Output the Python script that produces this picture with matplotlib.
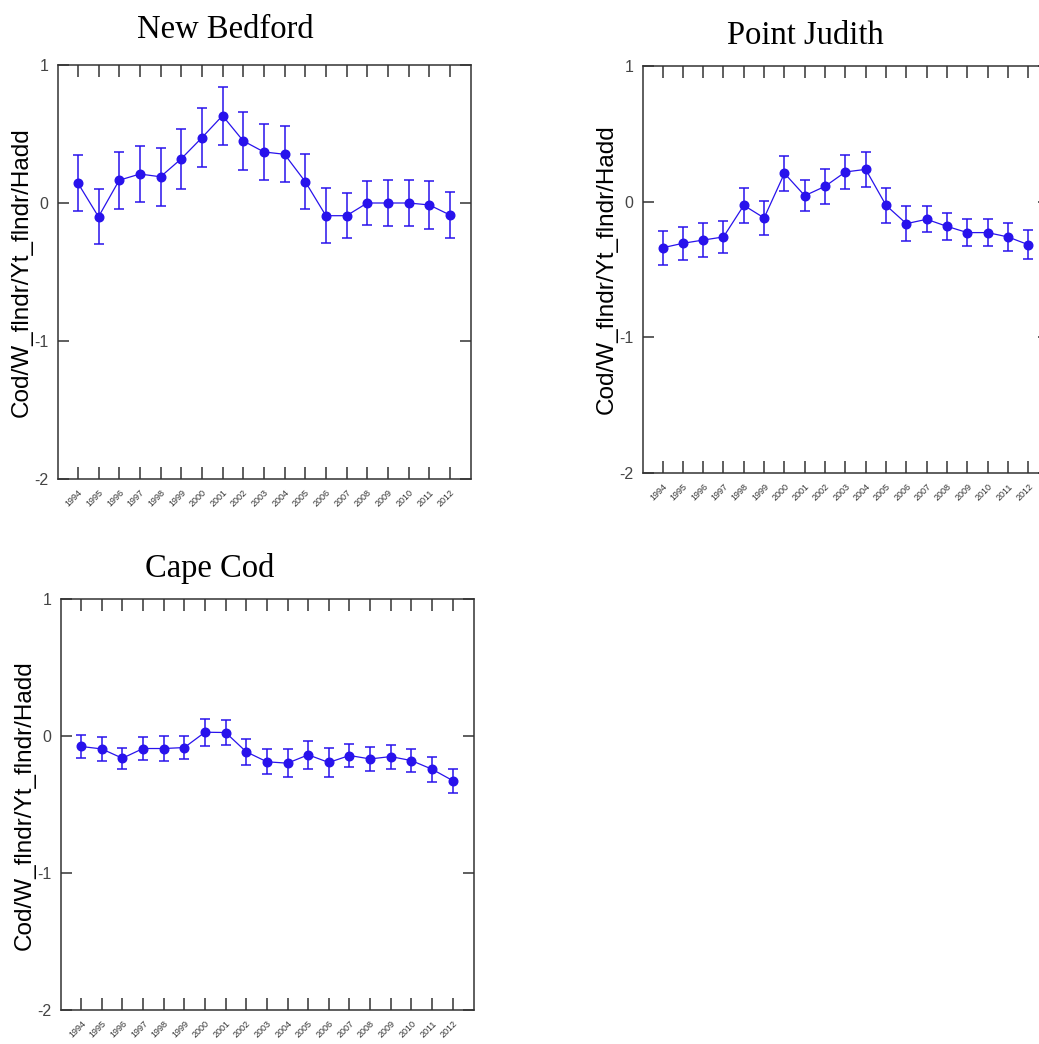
import matplotlib
matplotlib.use("Agg")
import matplotlib.pyplot as plt

years = list(range(1994, 2013))
year_labels = [str(y) for y in years]

nb_vals = [0.145, -0.10, 0.165, 0.21, 0.19, 0.32, 0.473, 0.633, 0.45, 0.37,
           0.353, 0.155, -0.092, -0.092, 0.0, 0.0, 0.0, -0.014, -0.087]
nb_err = [0.20, 0.20, 0.205, 0.205, 0.21, 0.215, 0.213, 0.21, 0.208, 0.204,
          0.203, 0.20, 0.198, 0.163, 0.162, 0.166, 0.166, 0.175, 0.17]

pj_vals = [-0.34, -0.307, -0.283, -0.26, -0.027, -0.12, 0.209, 0.044, 0.113, 0.219,
           0.238, -0.027, -0.162, -0.13, -0.182, -0.228, -0.228, -0.26, -0.317]
pj_err = [0.127, 0.12, 0.124, 0.12, 0.13, 0.125, 0.127, 0.115, 0.13, 0.125,
          0.13, 0.13, 0.128, 0.095, 0.097, 0.097, 0.097, 0.10, 0.107]

cc_vals = [-0.075, -0.093, -0.161, -0.09, -0.09, -0.083, 0.029, 0.027, -0.114, -0.187,
           -0.197, -0.136, -0.192, -0.141, -0.166, -0.149, -0.178, -0.241, -0.324]
cc_err = [0.082, 0.09, 0.077, 0.082, 0.091, 0.087, 0.10, 0.09, 0.097, 0.091,
          0.10, 0.10, 0.104, 0.087, 0.09, 0.087, 0.085, 0.092, 0.088]

titles = ["New Bedford", "Point Judith", "Cape Cod"]
ylabel = "Cod/W_flndr/Yt_flndr/Hadd"
yticks = [1, 0, -1, -2]

W, H = 1039, 1044
fig = plt.figure(figsize=(W / 100, H / 100), dpi=100)

def px_axes(left, top, right, bottom):
    return fig.add_axes([left / W, 1 - bottom / H, (right - left) / W, (bottom - top) / H])

color = "#2812ec"
frame = "#333333"

panels = [
    (px_axes(58, 65, 471, 479), nb_vals, nb_err, titles[0], (225, 38)),
    (px_axes(643, 66, 1049, 473), pj_vals, pj_err, titles[1], (805, 43.5)),
    (px_axes(61.3, 599.3, 473.7, 1010), cc_vals, cc_err, titles[2], (209.5, 576.7)),
]

for ax, vals, err, title, (tx, ty) in panels:
    ax.errorbar(years, vals, yerr=err, color=color, ecolor=color, lw=0.9,
                elinewidth=1.1, capsize=3.8, capthick=1.1, marker="o",
                markersize=6.2, markerfacecolor=color, markeredgecolor=color)
    ax.set_xlim(1993.04, 2013.02)
    ax.set_ylim(-2, 1)
    ax.set_yticks(yticks)
    ax.set_yticklabels([str(t) for t in yticks], fontsize=11.5, color="#444444",
                       family="Liberation Sans")
    ax.set_xticks(years)
    ax.set_xticklabels(year_labels, rotation=45, ha="right", va="top",
                       rotation_mode="anchor", fontsize=6.5,
                       color="#333333", family="Liberation Sans")
    ax.tick_params(axis="y", direction="in", left=True, right=True, length=8,
                   width=1.1, color=frame, pad=7)
    ax.tick_params(axis="x", direction="in", top=True, bottom=True, length=8.6,
                   width=1.1, color=frame, pad=6.5)
    for s in ax.spines.values():
        s.set_color(frame)
        s.set_linewidth(1.1)
    ax.set_ylabel(ylabel, fontsize=17.5, family="Liberation Sans", color="black")
    ax.yaxis.set_label_coords(-0.062, 0.5)
    fig.text(tx / W, 1 - ty / H, title, ha="center", va="baseline",
             fontsize=23.5, family="Liberation Serif", color="black")

fig.savefig("out.png", dpi=100)
